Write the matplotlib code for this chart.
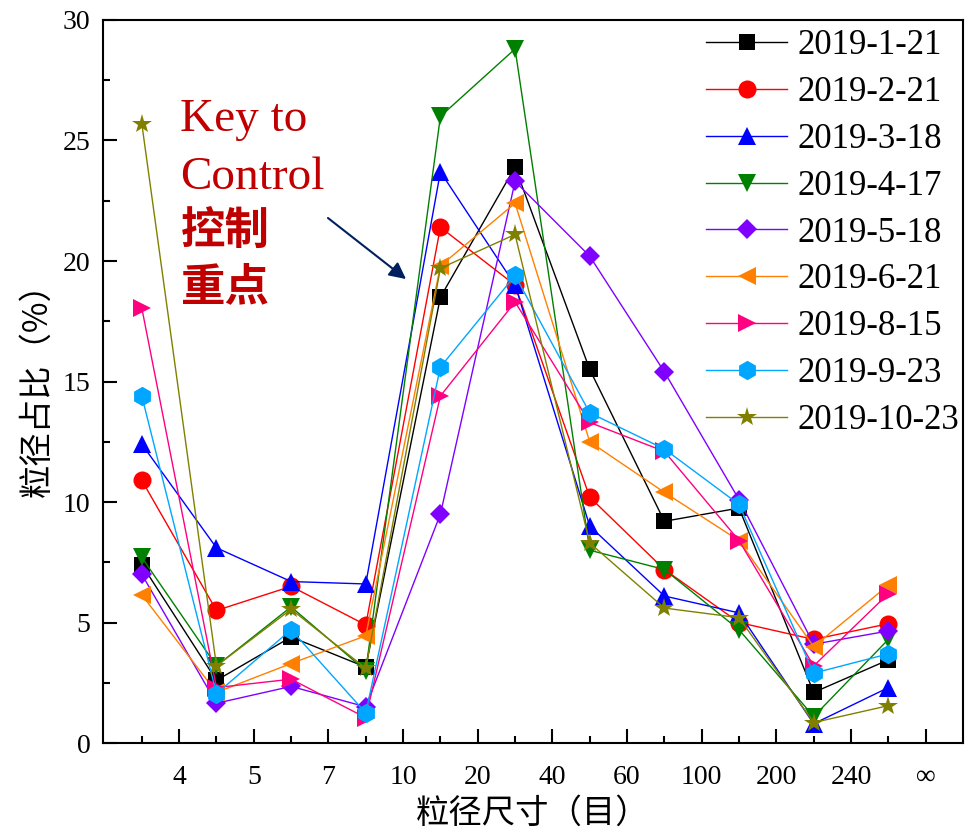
import matplotlib
matplotlib.use('Agg')
import matplotlib.pyplot as plt

# size classes (mesh) and tick labels
positions = list(range(11))
tick_pos = [p + 0.5 for p in positions]
tick_labels = ['4', '5', '7', '10', '20', '40', '60', '100', '200', '240', '∞']

dates = ['2019-1-21', '2019-2-21', '2019-3-18', '2019-4-17', '2019-5-18',
         '2019-6-21', '2019-8-15', '2019-9-23', '2019-10-23']

# particle size share (%) per sampling date
d0121 = [7.4, 2.6, 4.4, 3.15, 18.5, 23.9, 15.5, 9.2, 9.75, 2.1, 3.45]
d0221 = [10.9, 5.5, 6.5, 4.9, 21.4, 19.0, 10.2, 7.2, 5.0, 4.3, 4.95]
d0318 = [12.4, 8.1, 6.7, 6.6, 23.7, 19.0, 9.0, 6.1, 5.4, 0.8, 2.3]
d0417 = [7.7, 3.2, 5.65, 3.0, 26.0, 28.8, 8.0, 7.2, 4.7, 1.1, 4.3]
d0518 = [7.0, 1.65, 2.35, 1.5, 9.5, 23.3, 20.2, 15.4, 10.1, 4.1, 4.65]
d0621 = [6.15, 2.1, 3.3, 4.45, 19.8, 22.4, 12.5, 10.4, 8.4, 4.0, 6.55]
d0815 = [18.05, 2.3, 2.65, 1.05, 14.4, 18.3, 13.3, 12.1, 8.4, 3.2, 6.2]
d0923 = [14.4, 2.05, 4.7, 1.25, 15.6, 19.4, 13.7, 12.2, 9.9, 2.9, 3.7]
d1023 = [25.7, 3.2, 5.55, 3.1, 19.7, 21.1, 8.3, 5.6, 5.2, 0.85, 1.55]

series = [d0121, d0221, d0318, d0417, d0518, d0621, d0815, d0923, d1023]
colors = ['#000000', '#FF0000', '#0000FF', '#008000', '#8000FF',
          '#FF8000', '#FF0080', '#00A6FF', '#808000']
markers = ['s', 'o', '^', 'v', 'D', '<', '>', 'h', '*']
msizes = [11, 13, 13, 13, 10, 13, 13, 14, 15]

serif = ['Liberation Serif', 'DejaVu Serif']
cjk = ['Noto Sans CJK SC', 'DejaVu Sans']

fig = plt.figure(figsize=(9.66, 8.33), dpi=100)
ax = fig.add_axes([0.1066, 0.108, 0.8903, 0.868])

for vals, c, m, ms, lab in zip(series, colors, markers, msizes, dates):
    ax.plot(positions, vals, color=c, marker=m, markersize=ms, lw=1.0,
            markeredgewidth=0, label=lab)

ax.set_xlim(-0.52, 11.0)
ax.set_ylim(0, 30)
ax.set_xticks(tick_pos)
ax.set_xticklabels(tick_labels)
ax.set_xticks(positions, minor=True)
ax.set_yticks([0, 5, 10, 15, 20, 25, 30])
ax.set_yticks([2.5, 7.5, 12.5, 17.5, 22.5, 27.5], minor=True)
ax.tick_params(which='major', direction='in', length=10, width=1.5,
               labelsize=20, top=False, right=False)
ax.tick_params(which='minor', direction='in', length=5, width=1.5,
               top=False, right=False)
ax.tick_params(axis='x', which='major', pad=16)
ax.tick_params(axis='y', which='major', pad=9)
for lbl in ax.get_xticklabels() + ax.get_yticklabels():
    lbl.set_family(serif)
for sp in ax.spines.values():
    sp.set_linewidth(1.5)

ax.set_xlabel('粒径尺寸（目）', family=cjk, fontsize=24, labelpad=4)
ax.set_ylabel('粒径占比（%）', family=cjk, fontsize=24, labelpad=6)

leg = ax.legend(loc='upper left', bbox_to_anchor=(0.701, 0.9875), frameon=False,
                prop={'family': serif, 'size': 25}, handlelength=2.35,
                handletextpad=0.3, labelspacing=0.4, borderpad=0,
                borderaxespad=0)

# annotation
ax.text(0.0895, 0.8465, 'Key to', transform=ax.transAxes, color='#C00000',
        family=serif, fontsize=34, va='baseline')
ax.text(0.0895, 0.766, 'Control', transform=ax.transAxes, color='#C00000',
        family=serif, fontsize=34, va='baseline')
ax.text(0.091, 0.7068, '控制', transform=ax.transAxes, color='#C00000',
        family=cjk, fontsize=32, fontweight='bold', va='center')
ax.text(0.091, 0.6307, '重点', transform=ax.transAxes, color='#C00000',
        family=cjk, fontsize=32, fontweight='bold', va='center')
ax.annotate('', xy=(0.4203, 0.665), xycoords='figure fraction',
            xytext=(0.3395, 0.7383), textcoords='figure fraction',
            arrowprops=dict(arrowstyle='-|>', color='#002060', lw=1.5,
                            mutation_scale=25, shrinkA=0, shrinkB=0))

plt.savefig('out.png', dpi=100)
